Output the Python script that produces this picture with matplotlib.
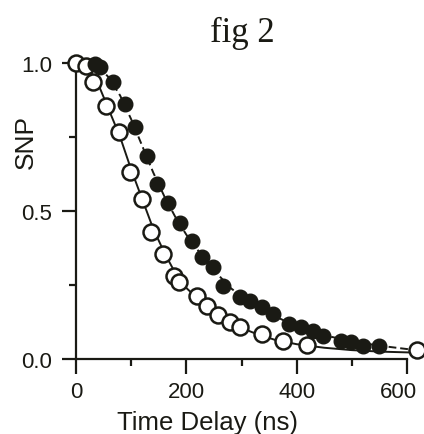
import matplotlib.pyplot as plt
from matplotlib.transforms import ScaledTranslation

# open circles (measured)
open_t = [0, 18, 30, 55, 78, 97, 120, 136, 157, 177, 186, 220, 238, 258, 280, 298, 338, 376, 418, 618]
open_snp = [1.0, 0.99, 0.935, 0.855, 0.767, 0.632, 0.54, 0.43, 0.355, 0.28, 0.26, 0.213, 0.18, 0.147, 0.125, 0.108, 0.084, 0.06, 0.047, 0.03]

# filled circles
fill_t = [35, 44, 67, 89, 107, 129, 147, 167, 188, 210, 229, 249, 267, 298, 316, 338, 358, 386, 407, 429, 447, 480, 498, 520, 549]
fill_snp = [0.995, 0.986, 0.936, 0.86, 0.784, 0.686, 0.59, 0.527, 0.46, 0.40, 0.345, 0.31, 0.247, 0.21, 0.196, 0.176, 0.152, 0.118, 0.108, 0.095, 0.078, 0.061, 0.057, 0.044, 0.044]

# fitted curves
fit_open_t = [0, 20, 40, 60, 80, 100, 120, 140, 160, 180, 200, 240, 280, 320, 360, 400, 450, 500, 550, 607]
fit_open_snp = [1.0, 0.99, 0.93, 0.84, 0.75, 0.64, 0.54, 0.44, 0.36, 0.29, 0.24, 0.17, 0.12, 0.09, 0.065, 0.05, 0.038, 0.03, 0.025, 0.022]
fit_fill_t = [20, 40, 60, 80, 100, 120, 140, 160, 180, 200, 240, 280, 320, 360, 400, 450, 500, 550, 607]
fit_fill_snp = [1.0, 0.99, 0.95, 0.89, 0.81, 0.72, 0.63, 0.55, 0.48, 0.42, 0.32, 0.24, 0.185, 0.145, 0.11, 0.08, 0.06, 0.045, 0.032]

ink = '#1a1a14'
plt.rcParams['font.family'] = ['Liberation Sans', 'DejaVu Sans']

fig = plt.figure(figsize=(4.24, 4.35), dpi=100)
ax = fig.add_axes([76 / 424, 75 / 435, 331 / 424, 296 / 435])

ax.plot(fit_open_t, fit_open_snp, color=ink, lw=1.4, clip_on=False, zorder=2)
ax.plot(fit_fill_t, fit_fill_snp, color=ink, lw=1.4, ls=(0, (4, 2)), clip_on=False, zorder=2)
ax.plot(open_t, open_snp, 'o', ms=11.5, mfc='white', mec=ink, mew=1.8, clip_on=False, zorder=3)
ax.plot(fill_t, fill_snp, 'o', ms=10.5, mfc=ink, mec=ink, clip_on=False, zorder=4)

ax.set_xlim(0, 600)
ax.set_ylim(0, 1)
ax.set_xticks([0, 200, 400, 600])
ax.set_xticks([100, 300, 500], minor=True)
ax.set_yticks([0.0, 0.5, 1.0])
ax.set_yticklabels(['0.0', '0.5', '1.0'])
ax.set_yticks([0.25, 0.75], minor=True)

for s in ['top', 'right']:
    ax.spines[s].set_visible(False)
for s in ['left', 'bottom']:
    ax.spines[s].set_linewidth(1.6)
    ax.spines[s].set_color(ink)

ax.tick_params(axis='x', which='major', length=11, width=1.6, pad=5, labelsize=16, colors=ink)
ax.tick_params(axis='x', which='minor', length=5, width=1.6, colors=ink)
ax.tick_params(axis='y', which='major', length=10, width=1.6, pad=7, labelsize=16, colors=ink)
ax.tick_params(axis='y', which='minor', length=5, width=1.6, colors=ink)

# last x label sits a little left of its tick, as in the original
last = ax.get_xticklabels()[-1]
last.set_transform(last.get_transform() + ScaledTranslation(-9 / 100, 0, fig.dpi_scale_trans))

ax.set_xlabel('Time Delay (ns)', fontsize=18.5, color=ink)
ax.xaxis.set_label_coords(0.396, -0.172)
ax.set_ylabel('SNP', fontsize=19, color=ink)
ax.yaxis.set_label_coords(-0.115, 0.736)

fig.text(242 / 424, 1 - 33 / 435, 'fig 2', family='Liberation Serif', fontsize=25,
         ha='center', va='center', color=ink)

fig.savefig('out.png', dpi=100)
